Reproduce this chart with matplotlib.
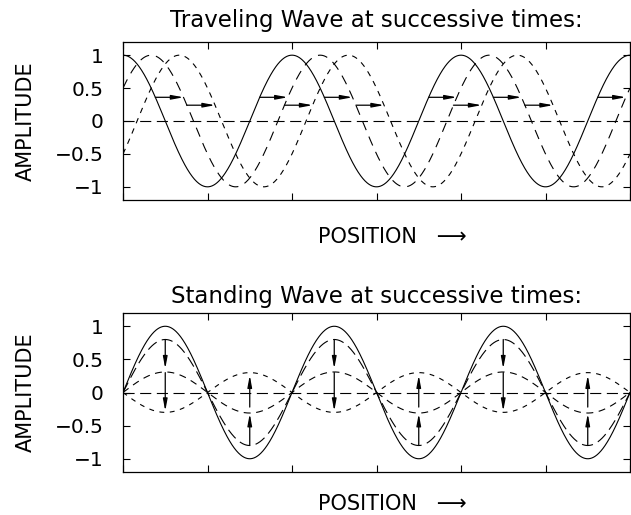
import numpy as np
import matplotlib
matplotlib.use("Agg")
import matplotlib.pyplot as plt

plt.rcParams["font.family"] = ["DejaVu Sans"]
plt.rcParams["lines.scale_dashes"] = False

# wave parameters
n_periods = 3
x_max = 2 * np.pi * n_periods
y_ticks = [-1, -0.5, 0, 0.5, 1]
y_tick_labels = ["\u22121", "\u22120.5", "0", "0.5", "1"]

# traveling wave: phase shifts of the successive snapshots
travel_shifts = [0.0, np.pi / 3, 2 * np.pi / 3]
travel_dashes = [None, (7, 5), (4, 4)]
# arrow levels, going from snapshot i to snapshot i+1
travel_arrow_levels = [0.36, 0.24]

# standing wave: amplitudes of the successive snapshots
stand_amps = [1.0, 0.8, 0.31, -0.3]
stand_dashes = [None, (8, 4), (5, 4), (3.5, 4)]
# arrows at the antinodes: (from, to) amplitude
peak_arrows = [(0.8, 0.36), (0.30, -0.28)]
trough_arrows = [(-0.8, -0.32), (-0.22, 0.26)]

title_top = "Traveling Wave at successive times:"
title_bottom = "Standing Wave at successive times:"
xlabel = "POSITION   \u27f6"
ylabel = "AMPLITUDE"

W, H = 631, 515


def style_axes(ax, title, title_pad, xlabel_y):
    ax.set_xlim(0, x_max)
    ax.set_ylim(-1.2, 1.2)
    ax.set_xticks(np.arange(0, x_max + 0.01, np.pi))
    ax.set_xticklabels([])
    ax.set_yticks(y_ticks)
    ax.set_yticklabels(y_tick_labels)
    ax.tick_params(direction="in", length=5, width=0.8, top=True, right=True,
                   labelsize=14.5, pad=14)
    for s in ax.spines.values():
        s.set_linewidth(0.9)
    ax.set_title(title, fontsize=16.5, pad=title_pad)
    ax.set_xlabel(xlabel, fontsize=15)
    ax.xaxis.set_label_coords(0.532, xlabel_y)
    ax.set_ylabel(ylabel, fontsize=15)
    ax.yaxis.set_label_coords(-0.172, 0.5)


def arrow(ax, x0, y0, x1, y1):
    ax.annotate("", xy=(x1, y1), xytext=(x0, y0),
                arrowprops=dict(arrowstyle="-|>,head_length=0.7,head_width=0.13",
                                lw=0.9, color="black", shrinkA=0, shrinkB=0))


fig = plt.figure(figsize=(W / 100, H / 100), dpi=100)
ax1 = fig.add_axes([123 / W, 1 - 200 / H, 507 / W, 158 / H])
ax2 = fig.add_axes([123 / W, 1 - 472 / H, 507 / W, 159 / H])

x = np.linspace(0, x_max, 1200)

# traveling wave
for shift, d in zip(travel_shifts, travel_dashes):
    line, = ax1.plot(x, np.cos(x - shift), color="black", lw=0.8)
    if d is not None:
        line.set_dashes(d)
zl, = ax1.plot([0, x_max], [0, 0], color="black", lw=0.8)
zl.set_dashes((8, 4))

for i, level in enumerate(travel_arrow_levels):
    a = np.arccos(level)
    for n in range(n_periods):
        for base in (a, 2 * np.pi - a):
            x0 = 2 * np.pi * n + base + travel_shifts[i]
            x1 = 2 * np.pi * n + base + travel_shifts[i + 1]
            if x1 <= x_max:
                arrow(ax1, x0, level, x1, level)

style_axes(ax1, title_top, 10.5, -0.17)

# standing wave
for amp, d in zip(stand_amps, stand_dashes):
    line, = ax2.plot(x, amp * np.sin(x), color="black", lw=0.8)
    if d is not None:
        line.set_dashes(d)
zl, = ax2.plot([0, x_max], [0, 0], color="black", lw=0.8)
zl.set_dashes((8, 4))

for n in range(n_periods):
    xp = np.pi / 2 + 2 * np.pi * n
    xt = 3 * np.pi / 2 + 2 * np.pi * n
    for y0, y1 in peak_arrows:
        arrow(ax2, xp, y0, xp, y1)
    for y0, y1 in trough_arrows:
        arrow(ax2, xt, y0, xt, y1)

style_axes(ax2, title_bottom, 7.5, -0.14)

fig.savefig("out.png", dpi=100)
